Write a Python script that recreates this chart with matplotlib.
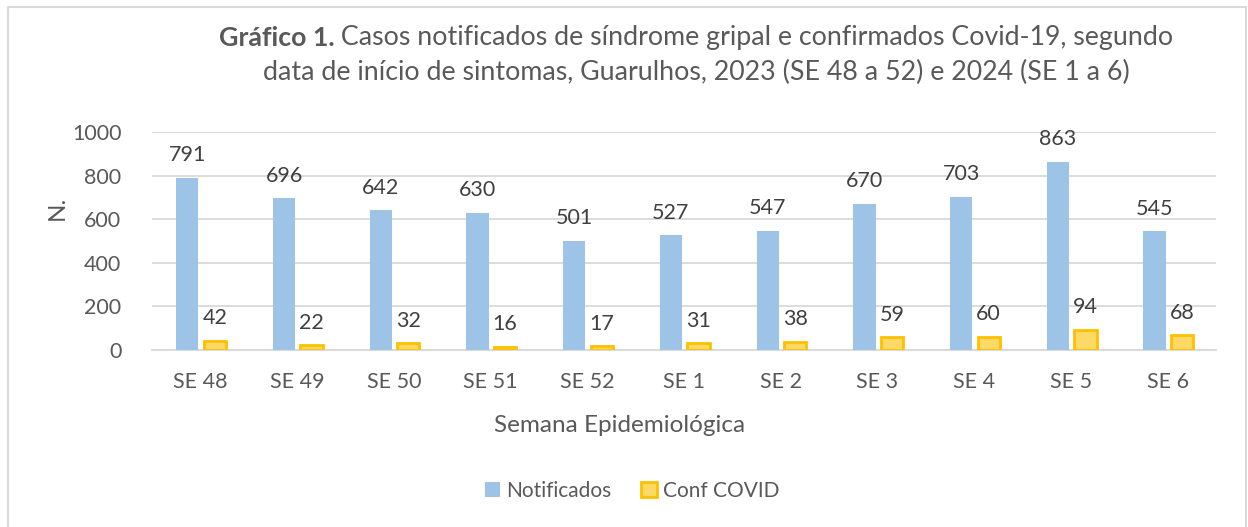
import matplotlib
matplotlib.use("Agg")
import matplotlib.pyplot as plt
import numpy as np
from matplotlib.patches import Rectangle

categories = ["SE 48", "SE 49", "SE 50", "SE 51", "SE 52", "SE 1", "SE 2", "SE 3", "SE 4", "SE 5", "SE 6"]
notificados = [791, 696, 642, 630, 501, 527, 547, 670, 703, 863, 545]
conf_covid = [42, 22, 32, 16, 17, 31, 38, 59, 60, 94, 68]
yticks = [0, 200, 400, 600, 800, 1000]

plt.rcParams['font.family'] = ['Lato', 'DejaVu Sans']
txt = '#404040'
tick_c = '#595959'

fig = plt.figure(figsize=(12.48, 5.27), dpi=100)
ax = fig.add_axes([152/1248, 177/527, (1216-152)/1248, 218/527])

x = np.arange(len(categories))
w = 0.23
b1 = ax.bar(x - 0.135, notificados, w, color='#9DC3E6', label='Notificados', zorder=3)
b2 = ax.bar(x + 0.15, conf_covid, w, color='#FFD966', edgecolor='#FFC000', linewidth=2,
            label='Conf COVID', zorder=3)

for xi, v in zip(x, notificados):
    ax.annotate(str(v), (xi - 0.135, v), xytext=(0, 9), textcoords='offset points',
                ha='center', va='bottom', fontsize=15.5, color=txt)
for xi, v in zip(x, conf_covid):
    ax.annotate(str(v), (xi + 0.15, v), xytext=(0, 9), textcoords='offset points',
                ha='center', va='bottom', fontsize=15.5, color=txt)

ax.set_xlim(-0.5, len(categories) - 0.5)
ax.set_ylim(0, 1000)
ax.set_yticks(yticks)
ax.set_xticks(x)
ax.set_xticklabels(categories)
ax.tick_params(axis='both', length=0, labelsize=15.5, labelcolor=tick_c)
ax.tick_params(axis='x', pad=16)
ax.tick_params(axis='y', pad=22)
ax.grid(axis='y', color='#D9D9D9', linewidth=1.3, zorder=0)
for s in ['top', 'right', 'left']:
    ax.spines[s].set_visible(False)
ax.spines['bottom'].set_color('#D9D9D9')
ax.spines['bottom'].set_linewidth(1.3)

fig.text(620/1248, 1 - 425/527, 'Semana Epidemiológica', fontsize=17.5, color=tick_c,
         ha='center', va='center')
fig.text(57/1248, 1 - 208/527, 'N.', fontsize=17.5, color=tick_c,
         ha='center', va='center', rotation=90)

# Title with bold prefix
fs_t = 19.3
t1 = fig.text(0, 0, 'Gráfico 1.', fontsize=fs_t, fontweight='bold', color=tick_c)
t2 = fig.text(0, 0, ' Casos notificados de síndrome gripal e confirmados Covid-19, segundo',
              fontsize=fs_t, color=tick_c)
fig.canvas.draw()
r = fig.canvas.get_renderer()
w1 = t1.get_window_extent(r).width
w2 = t2.get_window_extent(r).width
cx = 696
start = cx - (w1 + w2) / 2
t1.set_position((start / 1248, 1 - 38/527))
t1.set_va('center')
t2.set_position(((start + w1) / 1248, 1 - 38/527))
t2.set_va('center')
fig.text(cx/1248, 1 - 72/527,
         'data de início de sintomas, Guarulhos, 2023 (SE 48 a 52) e 2024 (SE 1 a 6)',
         ha='center', va='center', fontsize=fs_t, color=tick_c)

fig.legend(handles=[b1, b2], labels=['Notificados', 'Conf COVID'],
           loc='center', bbox_to_anchor=(632/1248, 1 - 491/527), ncol=2, frameon=False,
           fontsize=15, labelcolor=tick_c, handlelength=0.75, handleheight=0.75,
           handletextpad=0.3, columnspacing=1.4)

fig.patches.append(Rectangle((7.5/1248, -0.05), (1246-7.5)/1248, 1.05 - 7/527,
                             transform=fig.transFigure, fill=False,
                             edgecolor='#D9D9D9', linewidth=1.5))

fig.savefig('out.png', dpi=100)
